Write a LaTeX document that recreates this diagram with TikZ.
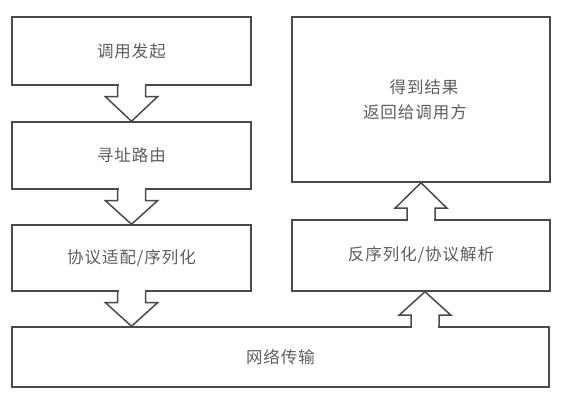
\documentclass[tikz,border=0pt]{standalone}
\usepackage{fontspec}
\newfontfamily\cjk[LetterSpace=6]{Noto Sans CJK SC}
\usetikzlibrary{calc}
\definecolor{edge}{HTML}{4A4A4A}
\definecolor{txt}{HTML}{5E5E5E}
\tikzset{
  box/.style={draw=edge, line width=1.5pt, rectangle, fill=white, inner sep=0pt,
    font=\cjk\fontsize{16.5}{22}\selectfont, text=txt, align=center},
  conn/.style={draw=edge, line width=1.5pt, line join=miter},
}
\newcommand\flowdown[3]{%
  \fill[white] ($(#1.south)+(#3-13,-2)$) rectangle ($(#1.south)+(#3+13,11)$);
  \draw[conn] ($(#1.south)+(#3-14,0)$) -- ++(0,11) -- ++(-12,0)
     -- ($(#2.north -| #1.south)+(#3,0)$)
     -- ($(#1.south)+(#3+26,11)$) -- ++(-12,0) -- ++(0,-11);}
\newcommand\flowup[3]{%
  \fill[white] ($(#1.north -| #2.south)+(#3-13,2)$) rectangle ($(#1.north -| #2.south)+(#3+13,-11)$);
  \draw[conn] ($(#1.north -| #2.south)+(#3-14,0)$) -- ++(0,-11) -- ++(-12,0)
     -- ($(#2.south)+(#3,0)$)
     -- ($(#1.north -| #2.south)+(#3+26,-11)$) -- ++(-12,0) -- ++(0,11);}
\begin{document}
\begin{tikzpicture}[x=1pt, y=-1pt]
\useasboundingbox (0,0) rectangle (566,406);
\node[box, minimum width=239pt, minimum height=68pt] (b1) at (131.5,51) {调用发起};
\node[box, minimum width=239pt, minimum height=67pt] (b2) at (131.5,155.5) {寻址路由};
\node[box, minimum width=239pt, minimum height=66pt] (b3) at (131.5,258) {协议适配/序列化};
\node[box, minimum width=537pt, minimum height=60pt] (b4) at (280.5,357) {网络传输};
\node[box, minimum width=258pt, minimum height=165pt] (r1) at (421,99.5) {};
\node[font=\cjk\fontsize{16.5}{25}\selectfont, text=txt, align=center] (r1t) at (r1.center) {\hspace*{6pt}得到结果\\返回给调用方\hspace*{12pt}};
\node[box, minimum width=258pt, minimum height=71pt] (r2) at (421,255.5) {反序列化/协议解析};
\flowdown{b1}{b2}{0}
\flowdown{b2}{b3}{0}
\flowdown{b3}{b4}{0}
\flowup{b4}{r2}{4}
\flowup{r2}{r1}{0}
\end{tikzpicture}
\end{document}
